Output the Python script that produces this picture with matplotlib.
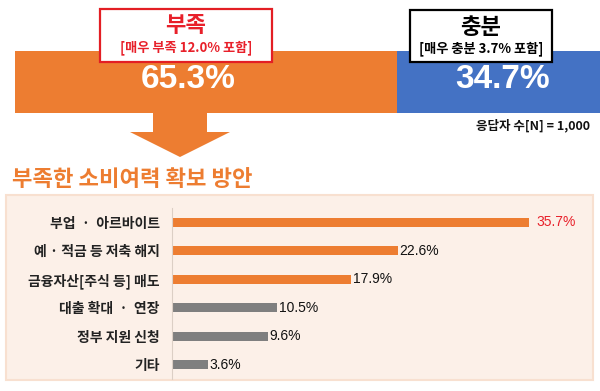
import matplotlib
matplotlib.use("Agg")
import matplotlib.pyplot as plt
from matplotlib.patches import Rectangle, Polygon

plt.rcParams['font.family'] = ['Noto Sans CJK KR', 'DejaVu Sans']

# top split
top_labels = ['부족', '충분']
top_values = [65.3, 34.7]
top_notes = ['[매우 부족 12.0% 포함]', '[매우 충분 3.7% 포함]']
top_colors = ['#ED7D31', '#4472C4']

# bottom bars
methods = ['부업  ·  아르바이트', '예 · 적금 등 저축 해지', '금융자산[주식 등] 매도',
           '대출 확대  ·  연장', '정부 지원 신청', '기타']
shares = [35.7, 22.6, 17.9, 10.5, 9.6, 3.6]
bar_colors = ['#ED7D31'] * 3 + ['#7F7F7F'] * 3
value_colors = ['#E8202A'] + ['#111111'] * 5

W, H = 600, 391
fig = plt.figure(figsize=(W / 100, H / 100), dpi=100)
num_font = ['Liberation Sans', 'DejaVu Sans']


def px_axes(x0, y0, x1, y1, z=0):
    ax = fig.add_axes([x0 / W, 1 - y1 / H, (x1 - x0) / W, (y1 - y0) / H])
    ax.set_zorder(z)
    return ax


# background overlay (panel + arrow)
bg = px_axes(0, 0, W, H, z=0)
bg.set_xlim(0, W)
bg.set_ylim(H, 0)
bg.axis('off')
bg.add_patch(Rectangle((6, 195), 587, 185, facecolor='#FCF0E8',
                       edgecolor='#F8E0D0', lw=1.5))
bg.add_patch(Polygon([(153, 110), (207, 110), (207, 132), (230, 132),
                      (180, 157), (130, 132), (153, 132)],
                     closed=True, facecolor='#ED7D31', edgecolor='none'))
bg.text(12, 180, '부족한 소비여력 확보 방안', color='#ED7D31', fontsize=16,
        fontweight='bold', ha='left', va='center')

# top stacked bar
ax_top = px_axes(15, 51, 600, 113, z=1)
left = 0
for v, c in zip(top_values, top_colors):
    ax_top.barh(0, v, left=left, height=1, color=c, edgecolor='none')
    left += v
ax_top.set_xlim(0, sum(top_values))
ax_top.set_ylim(-0.5, 0.5)
ax_top.axis('off')

# bottom bar chart
ax = px_axes(172, 208, 572, 379, z=1)
ax.patch.set_alpha(0)
y = range(len(methods))
bars = ax.barh(y, shares, height=0.33, color=bar_colors, edgecolor='none')
ax.set_xlim(0, 40)
ax.set_ylim(len(methods) - 0.5, -0.5)
for s in ['top', 'right', 'bottom']:
    ax.spines[s].set_visible(False)
ax.spines['left'].set_color('#DCCFC5')
ax.spines['left'].set_linewidth(0.8)
ax.set_xticks([])
ax.set_yticks(list(y))
ax.set_yticklabels(methods, fontsize=10, fontweight='bold', color='#222222')
ax.tick_params(axis='y', length=0, pad=9)
for rect, v, c in zip(bars, shares, value_colors):
    pad = 5 if c == '#E8202A' else 1.2
    ax.annotate(f'{v}%', (rect.get_width(), rect.get_y() + rect.get_height() / 2),
                xytext=(pad, 0), textcoords='offset points', va='center',
                ha='left', color=c, fontsize=10, family=num_font)

# foreground overlay (boxes and labels)
fg = px_axes(0, 0, W, H, z=3)
fg.patch.set_alpha(0)
fg.set_xlim(0, W)
fg.set_ylim(H, 0)
fg.axis('off')
boxes = [(100, 9, 272, 62, '#E31E24'), (410, 10, 552, 62, '#000000')]
for (x0, y0, x1, y1, ec), lab, note in zip(boxes, top_labels, top_notes):
    fg.add_patch(Rectangle((x0, y0), x1 - x0, y1 - y0, facecolor='white',
                           edgecolor=ec, lw=1.6))
    cx = (x0 + x1) / 2
    tc = '#E8202A' if ec == '#E31E24' else '#000000'
    fg.text(cx, y0 + 17, lab, color=tc, fontsize=16, fontweight='bold',
            ha='center', va='center')
    fg.text(cx, y0 + 39, note, color=tc, fontsize=9.5, fontweight='bold',
            ha='center', va='center')

fg.text(188, 80, f'{top_values[0]}%', color='white', fontsize=24,
        fontweight='bold', ha='center', va='center', family=num_font)
fg.text(503, 80, f'{top_values[1]}%', color='white', fontsize=24,
        fontweight='bold', ha='center', va='center', family=num_font)
fg.text(590, 126, '응답자 수[N] = 1,000', color='#111111', fontsize=9,
        fontweight='bold', ha='right', va='center')

fig.savefig('out.png', dpi=100)
